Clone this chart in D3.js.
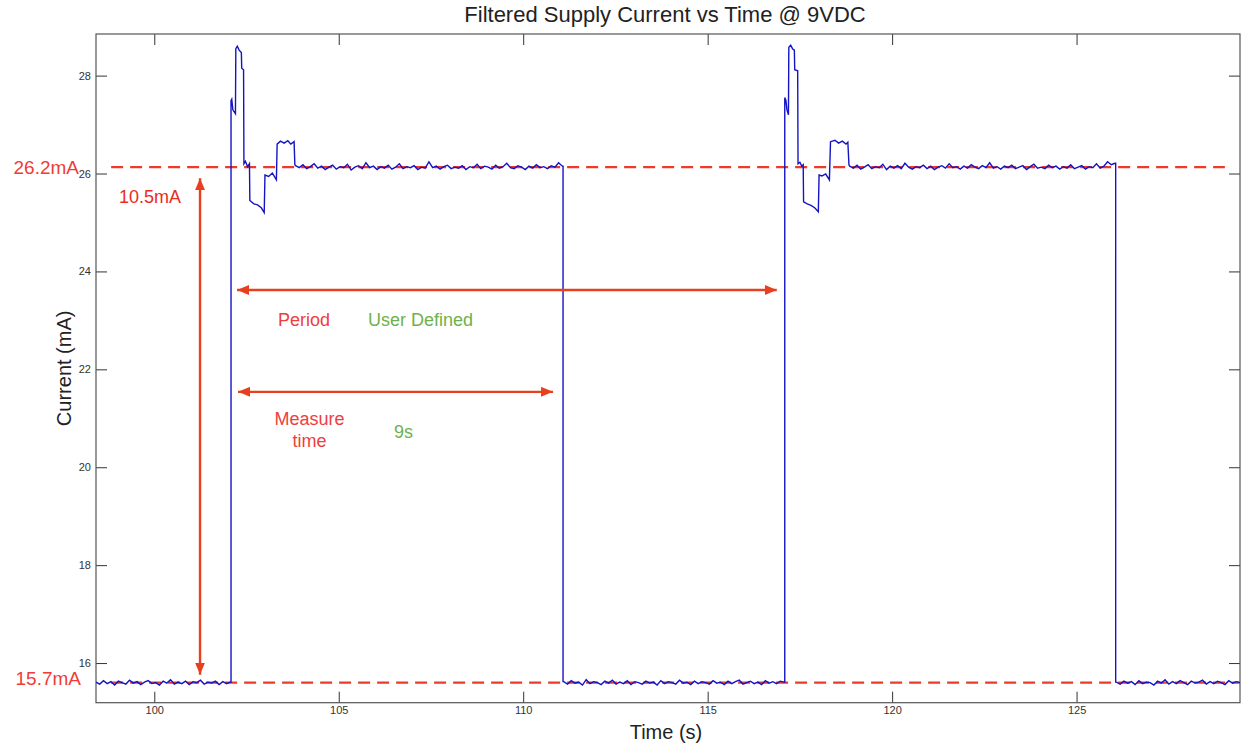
<!DOCTYPE html>
<html>
<head>
<meta charset="utf-8">
<script src="https://cdn.jsdelivr.net/npm/d3@7"></script>
<style>
  body { margin: 0; background: #fff; }
  svg { display: block; font-family: "Liberation Sans", Arial, sans-serif; }
</style>
</head>
<body>
<div id="chart"></div>
<script>
// chart text
var title = "Filtered Supply Current vs Time @ 9VDC";
var xLabel = "Time (s)";
var yLabel = "Current (mA)";

// ticks
var xTicks = [100, 105, 110, 115, 120, 125];
var yTicks = [16, 18, 20, 22, 24, 26, 28];
var xDomain = [98.42, 129.43];
var yDomain = [15.19, 28.85];

// reference levels (drawn dashed) and their labels
var refLevels = [26.13, 15.6];
var refLabels = ["26.2mA", "15.7mA"];

// switching instants (s)
var riseTimes = [102.08, 117.09];
var fallTimes = [111.08, 126.06];

// noisy plateaus: [start, end] and the readings across them (mA)
var lowA = { span: [98.42, 102.06], v: [15.61,15.57,15.64,15.58,15.62,15.55,15.63,15.60,15.57,15.65,15.59,15.62,15.56,15.61,15.64,15.58,15.60,15.55,15.63,15.59,15.66,15.57,15.61,15.58,15.63,15.56,15.62,15.60,15.65,15.57,15.61,15.59,15.63,15.56,15.62,15.58,15.61] };
var highA = { span: [103.83, 111.06], v: [26.16,26.12,26.18,26.10,26.14,26.20,26.11,26.15,26.08,26.13,26.17,26.09,26.14,26.12,26.19,26.07,26.13,26.16,26.10,26.22,26.12,26.15,26.08,26.14,26.11,26.17,26.09,26.13,26.20,26.10,26.14,26.12,26.16,26.08,26.13,26.11,26.24,26.12,26.15,26.09,26.14,26.17,26.10,26.13,26.11,26.16,26.08,26.14,26.12,26.19,26.10,26.15,26.13,26.09,26.17,26.11,26.14,26.21,26.12,26.10,26.16,26.13,26.08,26.15,26.11,26.18,26.12,26.14,26.10,26.16,26.13,26.22,26.15] };
var lowB = { span: [111.1, 117.07], v: [15.62,15.57,15.64,15.59,15.61,15.55,15.66,15.58,15.62,15.60,15.56,15.63,15.59,15.65,15.57,15.61,15.58,15.64,15.56,15.62,15.60,15.57,15.63,15.59,15.61,15.55,15.64,15.58,15.62,15.60,15.57,15.65,15.59,15.61,15.56,15.63,15.58,15.62,15.60,15.57,15.64,15.59,15.61,15.56,15.63,15.58,15.62,15.65,15.57,15.60,15.63,15.58,15.61,15.56,15.64,15.59,15.62,15.58,15.63,15.61] };
var highB = { span: [118.85, 126.04], v: [26.15,26.11,26.17,26.09,26.13,26.18,26.10,26.14,26.12,26.19,26.08,26.15,26.11,26.16,26.10,26.21,26.13,26.09,26.14,26.12,26.17,26.10,26.15,26.08,26.13,26.16,26.11,26.20,26.12,26.14,26.09,26.15,26.11,26.18,26.13,26.10,26.16,26.12,26.22,26.11,26.14,26.09,26.15,26.12,26.17,26.10,26.13,26.16,26.08,26.14,26.19,26.11,26.13,26.10,26.17,26.12,26.15,26.09,26.14,26.11,26.18,26.10,26.13,26.16,26.09,26.14,26.12,26.20,26.11,26.15,26.24,26.18,26.21] };
var lowC = { span: [126.08, 129.43], v: [15.61,15.57,15.63,15.59,15.62,15.56,15.64,15.58,15.61,15.60,15.55,15.63,15.59,15.66,15.57,15.62,15.58,15.64,15.60,15.56,15.63,15.59,15.61,15.65,15.57,15.62,15.58,15.63,15.60,15.56,15.64,15.59,15.62,15.60] };

// start-up transient after each rise: [time, mA]
var burstA = [[102.08,27.49],[102.10,27.52],[102.13,27.30],[102.20,27.22],[102.21,28.55],[102.25,28.60],[102.30,28.52],[102.36,28.47],[102.37,28.15],[102.42,28.12],[102.43,26.20],[102.47,26.25],[102.53,26.14],[102.58,26.20],[102.59,25.45],[102.70,25.38],[102.80,25.36],[102.90,25.30],[102.98,25.20],[103.00,25.97],[103.10,25.94],[103.20,26.01],[103.31,25.87],[103.33,26.60],[103.42,26.66],[103.52,26.62],[103.62,26.67],[103.70,26.60],[103.79,26.65],[103.81,26.18]];
var burstB = [[117.09,27.55],[117.12,27.50],[117.15,27.30],[117.19,27.20],[117.20,28.58],[117.25,28.62],[117.30,28.55],[117.35,28.52],[117.36,28.12],[117.44,28.10],[117.45,26.20],[117.50,26.23],[117.55,26.15],[117.59,26.18],[117.60,25.42],[117.70,25.38],[117.80,25.35],[117.90,25.30],[118.00,25.22],[118.02,25.97],[118.10,25.95],[118.20,25.99],[118.30,25.87],[118.33,26.65],[118.45,26.68],[118.55,26.62],[118.65,26.66],[118.75,26.60],[118.80,26.64],[118.83,26.18]];

// spans marked with arrows
var periodSpan = [riseTimes[0], riseTimes[1]];
var measureSpan = [riseTimes[0], fallTimes[0]];

var w = 1247, h = 745;
var margin = { top: 34, right: 7, bottom: 42.3, left: 96 };

var xScale = d3.scaleLinear().domain(xDomain).range([margin.left, w - margin.right]);
var yScale = d3.scaleLinear().domain(yDomain).range([h - margin.bottom, margin.top]);

var svg = d3.select("#chart").append("svg")
    .attr("width", w)
    .attr("height", h);

// turn a plateau into [t, v] pairs spread across its span
function plateau(p) {
    var n = p.v.length;
    return p.v.map(function(v, i) {
        return [p.span[0] + (p.span[1] - p.span[0]) * i / (n - 1), v];
    });
}

var trace = [].concat(
    plateau(lowA),
    [[riseTimes[0], lowA.v[lowA.v.length - 1]]],
    burstA,
    plateau(highA),
    [[fallTimes[0], highA.v[highA.v.length - 1]], [fallTimes[0], lowB.v[0]]],
    plateau(lowB),
    [[riseTimes[1], lowB.v[lowB.v.length - 1]]],
    burstB,
    plateau(highB),
    [[fallTimes[1], highB.v[highB.v.length - 1]], [fallTimes[1], lowC.v[0]]],
    plateau(lowC)
);

svg.append("defs").append("clipPath").attr("id", "plotClip")
    .append("rect")
    .attr("x", margin.left).attr("y", margin.top)
    .attr("width", w - margin.left - margin.right)
    .attr("height", h - margin.top - margin.bottom);

// title and axis labels
svg.append("text")
    .attr("x", (margin.left + w - margin.right) / 2 - 3)
    .attr("y", 22)
    .attr("text-anchor", "middle")
    .attr("font-size", 22)
    .attr("fill", "#222")
    .text(title);

svg.append("text")
    .attr("x", (margin.left + w - margin.right) / 2 - 2)
    .attr("y", 739)
    .attr("text-anchor", "middle")
    .attr("font-size", 20)
    .attr("fill", "#222")
    .text(xLabel);

svg.append("text")
    .attr("transform", "translate(71," + (margin.top + h - margin.bottom) / 2 + ") rotate(-90)")
    .attr("text-anchor", "middle")
    .attr("font-size", 20)
    .attr("fill", "#222")
    .text(yLabel);

// axes: MATLAB style box with inward ticks
function styleAxis(g) {
    g.select(".domain").remove();
    g.selectAll(".tick line").attr("stroke", "#333");
    g.selectAll(".tick text").attr("fill", "#333").attr("font-size", 11)
        .attr("font-family", "Liberation Sans, Arial, sans-serif");
}

svg.append("g")
    .attr("transform", "translate(0," + (h - margin.bottom) + ")")
    .call(d3.axisBottom(xScale).tickValues(xTicks).tickSizeInner(-11).tickSizeOuter(0).tickPadding(4))
    .call(styleAxis);
svg.append("g")
    .attr("transform", "translate(0," + margin.top + ")")
    .call(d3.axisTop(xScale).tickValues(xTicks).tickSizeInner(-11).tickSizeOuter(0).tickFormat(""))
    .call(styleAxis);
svg.append("g")
    .attr("transform", "translate(" + margin.left + ",0)")
    .call(d3.axisLeft(yScale).tickValues(yTicks).tickSizeInner(-11).tickSizeOuter(0).tickPadding(5))
    .call(styleAxis);
svg.append("g")
    .attr("transform", "translate(" + (w - margin.right) + ",0)")
    .call(d3.axisRight(yScale).tickValues(yTicks).tickSizeInner(-11).tickSizeOuter(0).tickFormat(""))
    .call(styleAxis);

svg.append("rect")
    .attr("x", margin.left).attr("y", margin.top)
    .attr("width", w - margin.left - margin.right)
    .attr("height", h - margin.top - margin.bottom)
    .attr("fill", "none")
    .attr("stroke", "#555")
    .attr("stroke-width", 1.2);

// dashed reference levels
var red = "#ee3a2a";
svg.selectAll("line.ref")
    .data(refLevels)
    .enter()
    .append("line")
    .attr("class", "ref")
    .attr("x1", xScale(98.83))
    .attr("x2", function(d, i) { return i === 0 ? xScale(129.02) : w - margin.right; })
    .attr("y1", function(d) { return yScale(d); })
    .attr("y2", function(d) { return yScale(d); })
    .attr("stroke", red)
    .attr("stroke-width", 2.4)
    .attr("stroke-dasharray", "12,7");

// the measured trace
svg.append("path")
    .datum(trace)
    .attr("clip-path", "url(#plotClip)")
    .attr("fill", "none")
    .attr("stroke", "#1414c4")
    .attr("stroke-width", 1.4)
    .attr("d", d3.line()
        .x(function(d) { return xScale(d[0]); })
        .y(function(d) { return yScale(d[1]); }));

// level labels at the left
svg.selectAll("text.ref")
    .data(refLabels)
    .enter()
    .append("text")
    .attr("class", "ref")
    .attr("x", function(d, i) { return i === 0 ? 79 : 81; })
    .attr("y", function(d, i) { return yScale(refLevels[i]) + (i === 0 ? 7 : 2.5); })
    .attr("text-anchor", "end")
    .attr("font-size", 19)
    .attr("fill", "#f03c38")
    .text(function(d) { return d; });

// arrows
var arrowColor = "#e8401e";
var defs = svg.select("defs");
defs.append("marker")
    .attr("id", "head")
    .attr("markerUnits", "userSpaceOnUse")
    .attr("viewBox", "0 0 12 10")
    .attr("refX", 12).attr("refY", 5)
    .attr("markerWidth", 12).attr("markerHeight", 10)
    .attr("orient", "auto-start-reverse")
    .append("path")
    .attr("d", "M0,0 L12,5 L0,10 Z")
    .attr("fill", arrowColor);

function arrow(x1, y1, x2, y2) {
    svg.append("line")
        .attr("x1", x1).attr("y1", y1)
        .attr("x2", x2).attr("y2", y2)
        .attr("stroke", arrowColor)
        .attr("stroke-width", 2.4)
        .attr("marker-start", "url(#head)")
        .attr("marker-end", "url(#head)");
}

// 10.5mA span between the two levels
var vx = xScale(101.24);
arrow(vx, yScale(refLevels[0]) + 11, vx, yScale(refLevels[1]) - 8);
svg.append("text")
    .attr("x", 119).attr("y", 203)
    .attr("font-size", 18)
    .attr("fill", "#ec2a22")
    .text("10.5mA");

// period and measure time spans
var periodY = yScale(23.62);
var measureY = yScale(21.54);
arrow(xScale(periodSpan[0]) + 6, periodY, xScale(periodSpan[1]) - 8, periodY);
arrow(xScale(measureSpan[0]) + 7, measureY, xScale(measureSpan[1]) - 10, measureY);

var labelRed = "#ee3e3e";
var labelGreen = "#6db24c";
svg.append("text").attr("x", 278).attr("y", 326).attr("font-size", 18).attr("fill", labelRed).text("Period");
svg.append("text").attr("x", 368).attr("y", 326).attr("font-size", 18).attr("fill", labelGreen).text("User Defined");
svg.append("text").attr("x", 309.5).attr("y", 425).attr("text-anchor", "middle").attr("font-size", 18).attr("fill", labelRed).text("Measure");
svg.append("text").attr("x", 309.5).attr("y", 447).attr("text-anchor", "middle").attr("font-size", 18).attr("fill", labelRed).text("time");
svg.append("text").attr("x", 394).attr("y", 438).attr("font-size", 18).attr("fill", labelGreen).text("9s");
</script>
</body>
</html>
